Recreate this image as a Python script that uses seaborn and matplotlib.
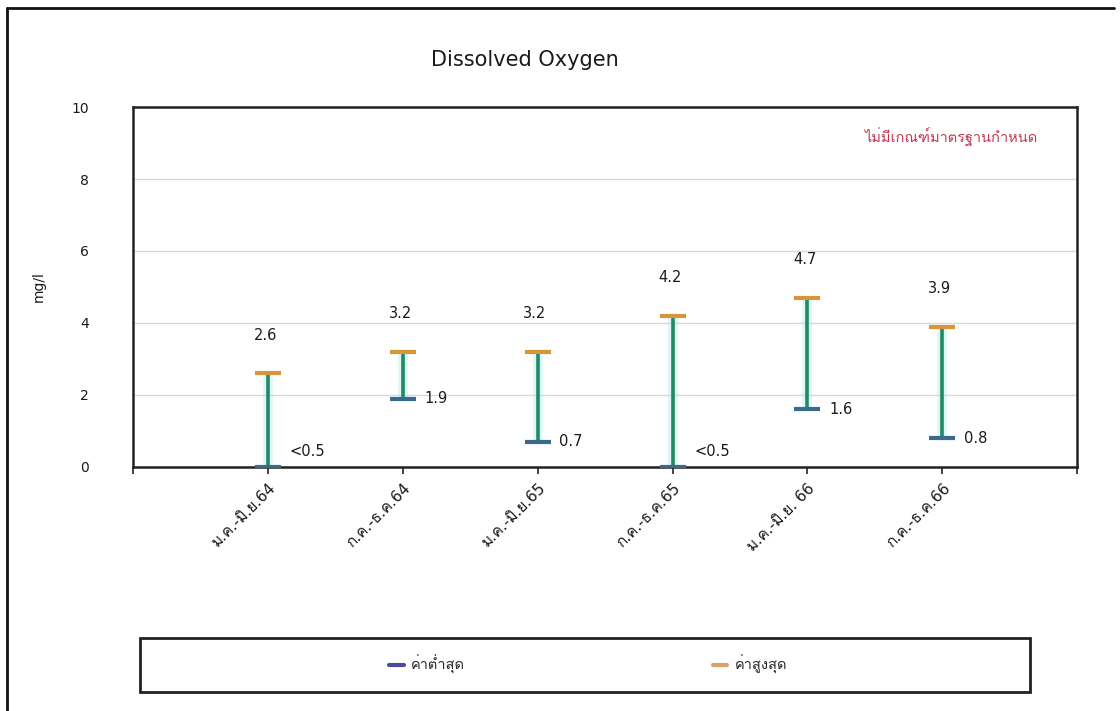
import pandas as pd
import numpy as np
import seaborn as sns
import matplotlib.pyplot as plt
from matplotlib import font_manager
from matplotlib.lines import Line2D
from matplotlib.patches import Rectangle

# === data ===
periods = ["ม.ค.-มิ.ย.64", "ก.ค.-ธ.ค.64", "ม.ค.-มิ.ย.65",
           "ก.ค.-ธ.ค.65", "ม.ค.-มิ.ย. 66", "ก.ค.-ธ.ค.66"]
do_min = [0.0, 1.9, 0.7, 0.0, 1.6, 0.8]          # "<0.5" drawn at the axis
do_max = [2.6, 3.2, 3.2, 4.2, 4.7, 3.9]
min_labels = ["<0.5", "1.9", "0.7", "<0.5", "1.6", "0.8"]
max_labels = ["2.6", "3.2", "3.2", "4.2", "4.7", "3.9"]
yticks = [0, 2, 4, 6, 8, 10]

title = "Dissolved Oxygen"
ylabel = "mg/l"
note = "ไม่มีเกณฑ์มาตรฐานกำหนด"
legend_min = "ค่าต่ำสุด"
legend_max = "ค่าสูงสุด"

df = pd.DataFrame({"period": periods, "min": do_min, "max": do_max})
df["pos"] = np.arange(1, len(df) + 1)

# === fonts: find something that carries Thai glyphs ===
sns.set_style("white")
thai_fonts = []
for f in font_manager.fontManager.ttflist:
    try:
        cmap = font_manager.get_font(f.fname).get_charmap()
    except Exception:
        continue
    if 0x0E01 in cmap and f.name not in thai_fonts:
        thai_fonts.append(f.name)
plt.rcParams["font.family"] = ["DejaVu Sans"] + thai_fonts[:2]

c_line = "#1f8a66"
c_min = "#3b6b8c"
c_max = "#d9953a"
c_text = "#1a1a1a"

fig = plt.figure(figsize=(11.2, 7.11), dpi=100)
ax = fig.add_axes([0.1188, 0.3432, 0.8429, 0.5063])

# range lines (light halo + main line) and the two caps
ax.vlines(df["pos"], df["min"], df["max"], color="#9ee8e8", lw=7, alpha=0.35, zorder=2)
ax.vlines(df["pos"], df["min"], df["max"], color=c_line, lw=2.6, zorder=3)
sns.scatterplot(data=df, x="pos", y="min", marker="_", s=340, linewidth=3,
                color=c_min, ax=ax, zorder=4)
sns.scatterplot(data=df, x="pos", y="max", marker="_", s=340, linewidth=3,
                color=c_max, ax=ax, zorder=4)

for p, v, lab in zip(df["pos"], df["max"], max_labels):
    ax.text(p - 0.02, v + 1.05, lab, ha="center", va="center", fontsize=10.5, color=c_text)
for p, v, lab in zip(df["pos"], df["min"], min_labels):
    ax.text(p + 0.16, max(v, 0.42), lab, ha="left", va="center", fontsize=10.5, color=c_text)

ax.text(6.71, 9.15, note, ha="right", va="center", fontsize=10.5, color="#c23a52")

ax.set_xlim(0, 7)
ax.set_ylim(0, 10)
ax.set_yticks(yticks)
ax.set_xticks(df["pos"])
ax.set_xticklabels(periods, rotation=45, ha="right", rotation_mode="anchor",
                   fontsize=11, color=c_text)
ax.set_xticks([0, 7], minor=True)
ax.tick_params(axis="x", which="both", direction="out", length=5, width=1.2,
               color="#222222", bottom=True, pad=5)
ax.tick_params(axis="y", length=0, pad=32, labelsize=10, labelcolor=c_text)
ax.set_xlabel("")
ax.set_ylabel(ylabel, fontsize=10, labelpad=18, color=c_text)
ax.grid(axis="y", color="#d9d9d9", lw=1)
ax.set_axisbelow(True)
for s in ax.spines.values():
    s.set_visible(True)
    s.set_color("#222222")
    s.set_linewidth(1.8)

fig.text(0.469, 0.9156, title, ha="center", va="center", fontsize=15, color=c_text)

# legend with its own boxed frame
handles = [Line2D([], [], color="#4b4b9e", lw=3),
           Line2D([], [], color="#d8a06a", lw=3)]
fig.legend(handles, [legend_min, legend_max], loc="center",
           bbox_to_anchor=(0.525, 0.065), ncol=2, frameon=False,
           handlelength=1.0, handletextpad=0.5, columnspacing=17, fontsize=10.5)
fig.add_artist(Rectangle((0.125, 0.027), 0.795, 0.076, transform=fig.transFigure,
                         fill=False, edgecolor="#222222", lw=2))

# outer chart frame (top and left edges visible)
fig.add_artist(Line2D([0.00625, 0.995], [0.9887, 0.9887], transform=fig.transFigure,
                      color="#111111", lw=2))
fig.add_artist(Line2D([0.00625, 0.00625], [0.0, 0.9887], transform=fig.transFigure,
                      color="#111111", lw=2))

fig.savefig("out.png", dpi=100, facecolor="white")
